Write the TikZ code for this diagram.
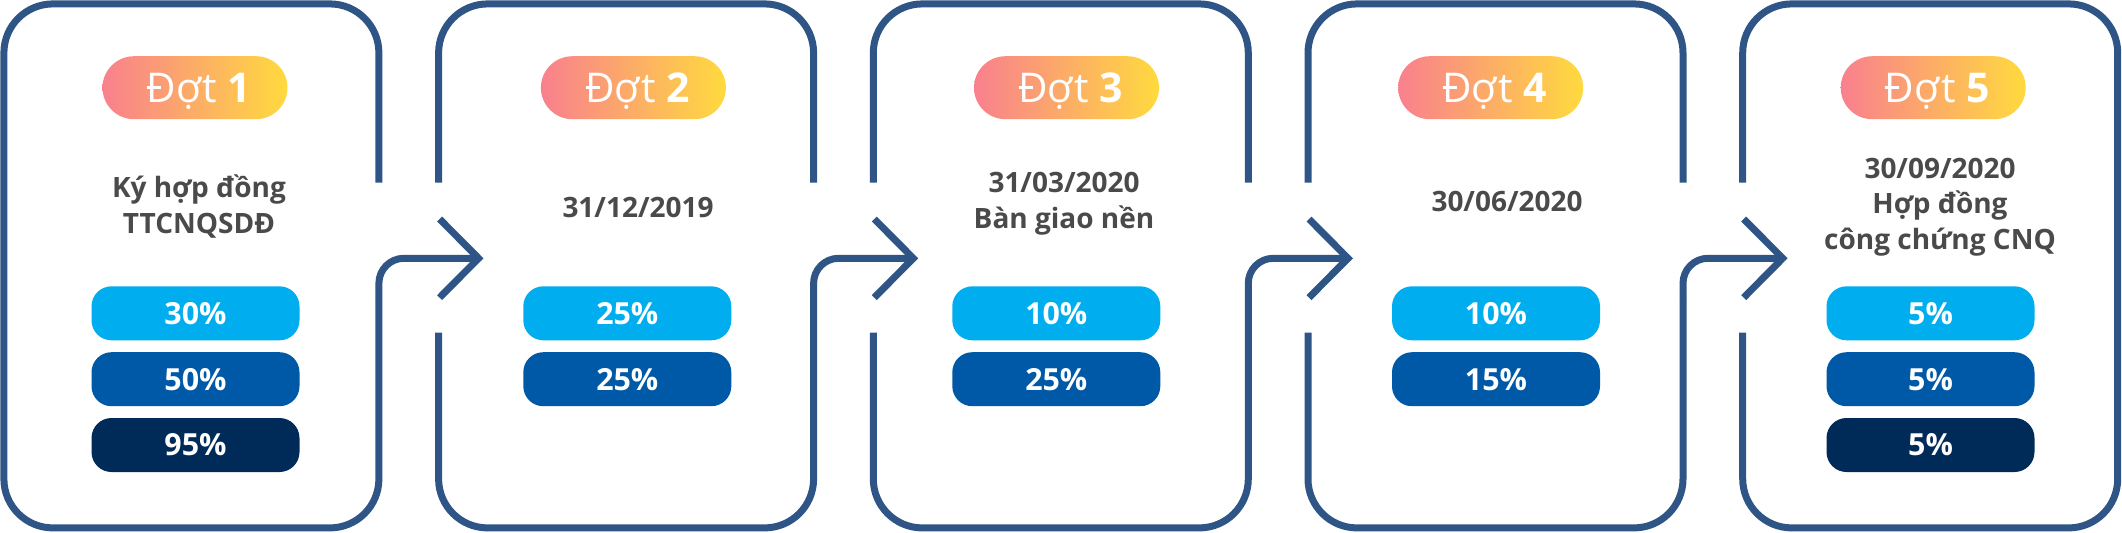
\documentclass[tikz,border=0pt]{standalone}
\usepackage{fontspec}
\setmainfont{Open Sans}
\definecolor{outl}{RGB}{46,85,134}
\definecolor{txtgray}{RGB}{74,74,74}
\definecolor{barA}{RGB}{0,174,239}
\definecolor{barB}{RGB}{0,89,166}
\definecolor{barC}{RGB}{0,43,89}
\definecolor{pinkc}{RGB}{249,128,142}
\definecolor{yellowc}{RGB}{255,218,62}
\begin{document}
\begin{tikzpicture}[x=0.5pt,y=-0.5pt,
  outline/.style={draw=outl, line width=3.5pt},
  pill/.style={rounded corners=15.75pt, minimum width=92.5pt, minimum height=31.5pt, inner sep=0pt, left color=pinkc, right color=yellowc, draw=none},
  pilltext/.style={anchor=base, text=white, inner sep=0pt, font=\fontsize{20.5}{24}\selectfont},
  bar/.style={rounded corners=10pt, minimum width=104pt, minimum height=27pt, inner sep=0pt, text=white, font=\fontsize{15.2}{18}\selectfont\bfseries},
  info/.style={anchor=base, text=txtgray, inner sep=0pt, font=\fontsize{14}{17}\selectfont\bfseries}]
\useasboundingbox (0,0) rectangle (2122,532);

% panel key points
\foreach \i in {0,1,2,3,4}{
  \pgfmathsetmacro{\L}{3.9+434.7*\i}
  \pgfmathsetmacro{\R}{\L+375}
  \coordinate (p\i-tl) at (\L,3.9);
  \coordinate (p\i-tr) at (\R,3.9);
  \coordinate (p\i-bl) at (\L,527.9);
  \coordinate (p\i-br) at (\R,527.9);
  \coordinate (p\i-lt) at (\L,182.7);
  \coordinate (p\i-lb) at (\L,332.7);
  \coordinate (p\i-rt) at (\R,182.7);
  \coordinate (p\i-rb) at (\R,301);
}
% arrow key points
\foreach \i in {0,1,2,3}{
  \pgfmathsetmacro{\R}{3.9+434.7*\i+375}
  \pgfmathsetmacro{\N}{3.9+434.7*(\i+1)}
  \coordinate (a\i-bend) at (\R,258.3);
  \coordinate (a\i-tip) at (\N+40,258.3);
  \coordinate (a\i-up) at (\N+1,219);
  \coordinate (a\i-lo) at (\N+1,297.6);
}

% panel outlines
\draw[outline, rounded corners=24.5pt] (p0-rt) -- (p0-tr) -- (p0-tl) -- (p0-bl) -- (p0-br) -- (p0-rb);
\foreach \i in {1,2,3}{
  \draw[outline, rounded corners=24.5pt] (p\i-lt) -- (p\i-tl) -- (p\i-tr) -- (p\i-rt);
  \draw[outline, rounded corners=24.5pt] (p\i-lb) -- (p\i-bl) -- (p\i-br) -- (p\i-rb);
}
\draw[outline, rounded corners=24.5pt] (p4-lt) -- (p4-tl) -- (p4-tr) -- (p4-br) -- (p4-bl) -- (p4-lb);

% arrows
\foreach \i in {0,1,2,3}{
  \draw[outline, rounded corners=12.5pt] (p\i-rb) -- (a\i-bend) -- (a\i-tip);
  \draw[outline] (a\i-up) -- (a\i-tip) -- (a\i-lo);
}

% pills
\foreach \i/\cx in {1/195,2/633.4,3/1066.5,4/1490.7,5/1933.2}{
  \node[pill] (pill\i) at (\cx,87.7) {};
  \node[pilltext] (pilltxt\i) at (\cx+4,102.5) {Đợt \textbf{\i}};
}

% info texts
\node[info] (t1a) at (199,197.5) {Ký hợp đồng};
\node[info] (t1b) at (199,233.5) {TTCNQSDĐ};
\node[info] (t2a) at (638,217.3) {31/12/2019};
\node[info] (t3a) at (1064,192.5) {31/03/2020};
\node[info] (t3b) at (1064,228) {Bàn giao nền};
\node[info] (t4a) at (1507,211.7) {30/06/2020};
\node[info] (t5a) at (1940,178.3) {30/09/2020};
\node[info] (t5b) at (1940,213.8) {Hợp đồng};
\node[info] (t5c) at (1940,249.5) {công chứng CNQ};

% percentage bars
\node[bar, fill=barA] (b1a) at (195.5,313.3) {30\%};
\node[bar, fill=barB] (b1b) at (195.5,379.2) {50\%};
\node[bar, fill=barC] (b1c) at (195.5,445) {95\%};
\node[bar, fill=barA] (b2a) at (627.3,313.3) {25\%};
\node[bar, fill=barB] (b2b) at (627.3,379.2) {25\%};
\node[bar, fill=barA] (b3a) at (1056.3,313.3) {10\%};
\node[bar, fill=barB] (b3b) at (1056.3,379.2) {25\%};
\node[bar, fill=barA] (b4a) at (1496,313.3) {10\%};
\node[bar, fill=barB] (b4b) at (1496,379.2) {15\%};
\node[bar, fill=barA] (b5a) at (1930.5,313.3) {5\%};
\node[bar, fill=barB] (b5b) at (1930.5,379.2) {5\%};
\node[bar, fill=barC] (b5c) at (1930.5,445) {5\%};
\end{tikzpicture}
\end{document}
